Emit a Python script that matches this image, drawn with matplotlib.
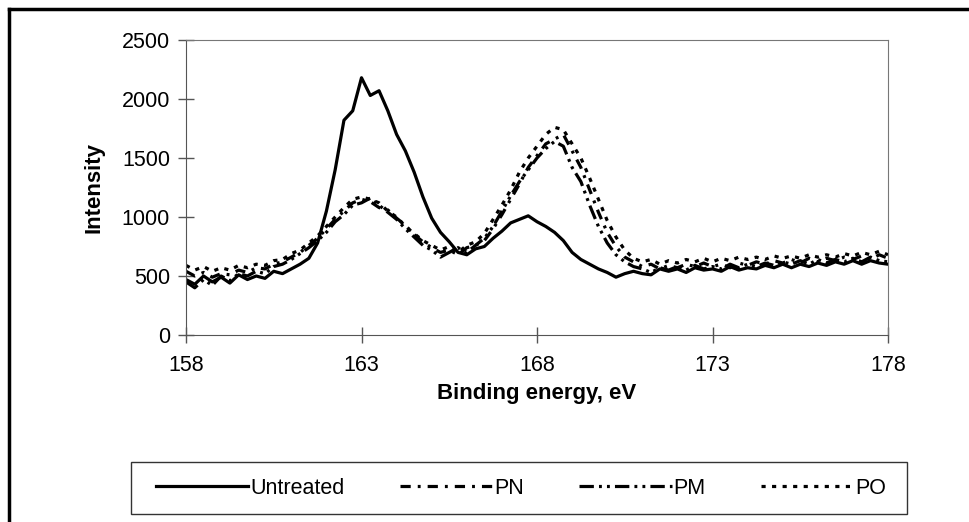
import numpy as np
import matplotlib
matplotlib.use("Agg")
import matplotlib.pyplot as plt
from matplotlib.lines import Line2D
from matplotlib.patches import Rectangle

plt.rcParams['font.family'] = ['Liberation Sans', 'DejaVu Sans']

# binding energy grid, 0.25 eV steps
energy = np.arange(158, 178.001, 0.25)

untreated = [470, 430, 500, 450, 490, 440, 510, 470,
             500, 480, 540, 520, 560, 600, 650, 780,
             1050, 1400, 1820, 1900, 2180, 2030, 2070, 1900,
             1700, 1560, 1380, 1170, 990, 870, 790, 700,
             680, 730, 750, 820, 880, 950, 980, 1010,
             960, 920, 870, 800, 700, 640, 600, 560,
             530, 490, 520, 540, 520, 510, 560, 540,
             560, 530, 570, 550, 560, 540, 580, 550,
             570, 560, 590, 570, 600, 570, 600, 580,
             610, 590, 620, 600, 630, 600, 630, 610,
             600]

pn = [540, 500, 530, 490, 520, 510, 550, 530,
      570, 560, 600, 620, 660, 700, 760, 820,
      900, 980, 1050, 1120, 1150, 1130, 1080, 1060,
      990, 930, 850, 790, 740, 700, 720, 680,
      740, 760, 800, 900, 1020, 1150, 1280, 1420,
      1520, 1620, 1660, 1700, 1560, 1420, 1230, 1040,
      870, 750, 660, 620, 580, 600, 560, 590,
      570, 600, 580, 610, 580, 600, 570, 610,
      590, 620, 600, 630, 610, 640, 610, 650,
      620, 650, 630, 660, 640, 670, 640, 680,
      650]

pm = [450, 400, 470, 420, 500, 460, 520, 500,
      540, 520, 580, 600, 640, 690, 740, 800,
      870, 960, 1020, 1100, 1120, 1160, 1100, 1040,
      980, 900, 830, 760, 720, 660, 700, 740,
      700, 760, 820, 920, 1050, 1180, 1300, 1400,
      1500, 1580, 1640, 1600, 1420, 1300, 1100, 920,
      780, 680, 620, 580, 560, 530, 570, 550,
      580, 550, 590, 560, 580, 560, 600, 570,
      600, 580, 610, 590, 620, 600, 630, 600,
      640, 610, 640, 620, 650, 620, 660, 630,
      620]

po = [590, 550, 580, 540, 570, 550, 590, 570,
      600, 590, 630, 640, 690, 720, 780, 840,
      920, 1000, 1080, 1150, 1170, 1150, 1120, 1050,
      1000, 920, 860, 800, 760, 720, 750, 700,
      760, 790, 860, 980, 1100, 1230, 1380, 1500,
      1600, 1700, 1760, 1740, 1620, 1500, 1330, 1150,
      970, 830, 720, 650, 620, 640, 600, 630,
      610, 640, 620, 650, 620, 650, 630, 660,
      640, 660, 640, 670, 650, 670, 650, 680,
      660, 680, 660, 690, 670, 700, 680, 710,
      680]

labels = ["Untreated", "PN", "PM", "PO"]
series = [untreated, pn, pm, po]
styles = ['-', (0, (3.2, 2.2, 0.9, 2.2)), (0, (4.5, 1.6, 0.9, 1.6, 0.9, 1.6)), (0, (1.3, 2.0))]

fig = plt.figure(figsize=(9.69, 5.22), dpi=100)
ax = fig.add_axes([186/969, 1 - 335/522, (888 - 186)/969, (335 - 40)/522])

for ys, ls, lab in zip(series, styles, labels):
    ax.plot(energy, ys, color='black', lw=2.3, linestyle=ls, label=lab)

ax.set_xlim(158, 178)
ax.set_ylim(0, 2500)
ax.set_xticks([158, 163, 168, 173, 178])
ax.set_yticks(range(0, 2501, 500))
ax.tick_params(direction='inout', length=11, width=1, color='#555555',
               labelsize=15.5)
ax.tick_params(axis='x', pad=9)
ax.tick_params(axis='y', pad=6)
for s in ['left', 'bottom']:
    ax.spines[s].set_color('#555555')
for s in ['top', 'right']:
    ax.spines[s].set_color('#777777')

ax.set_xlabel("Binding energy, eV", fontsize=16, fontweight='bold', labelpad=5)
ax.set_ylabel("Intensity", fontsize=16, fontweight='bold', labelpad=12)

# legend box drawn separately, entries centred inside
fig.add_artist(Rectangle((131/969, 1 - 514/522), (907 - 131)/969, 52/522,
                         transform=fig.transFigure, fill=False,
                         edgecolor='#333333', lw=1))
leg = fig.legend(loc='center', ncol=4, bbox_to_anchor=(521/969, 1 - 488/522),
                 fontsize=15.5, handlelength=4.3, handletextpad=0.1,
                 columnspacing=2.55, frameon=False, borderaxespad=0)

# outer frame of the figure (left and top edges)
fig.add_artist(Line2D([9/969, 9/969], [0, 1 - 9/522], color='black', lw=2.5,
                      transform=fig.transFigure))
fig.add_artist(Line2D([9/969, 1], [1 - 9/522, 1 - 9/522], color='black', lw=2.5,
                      transform=fig.transFigure))

fig.savefig("out.png", dpi=100)
